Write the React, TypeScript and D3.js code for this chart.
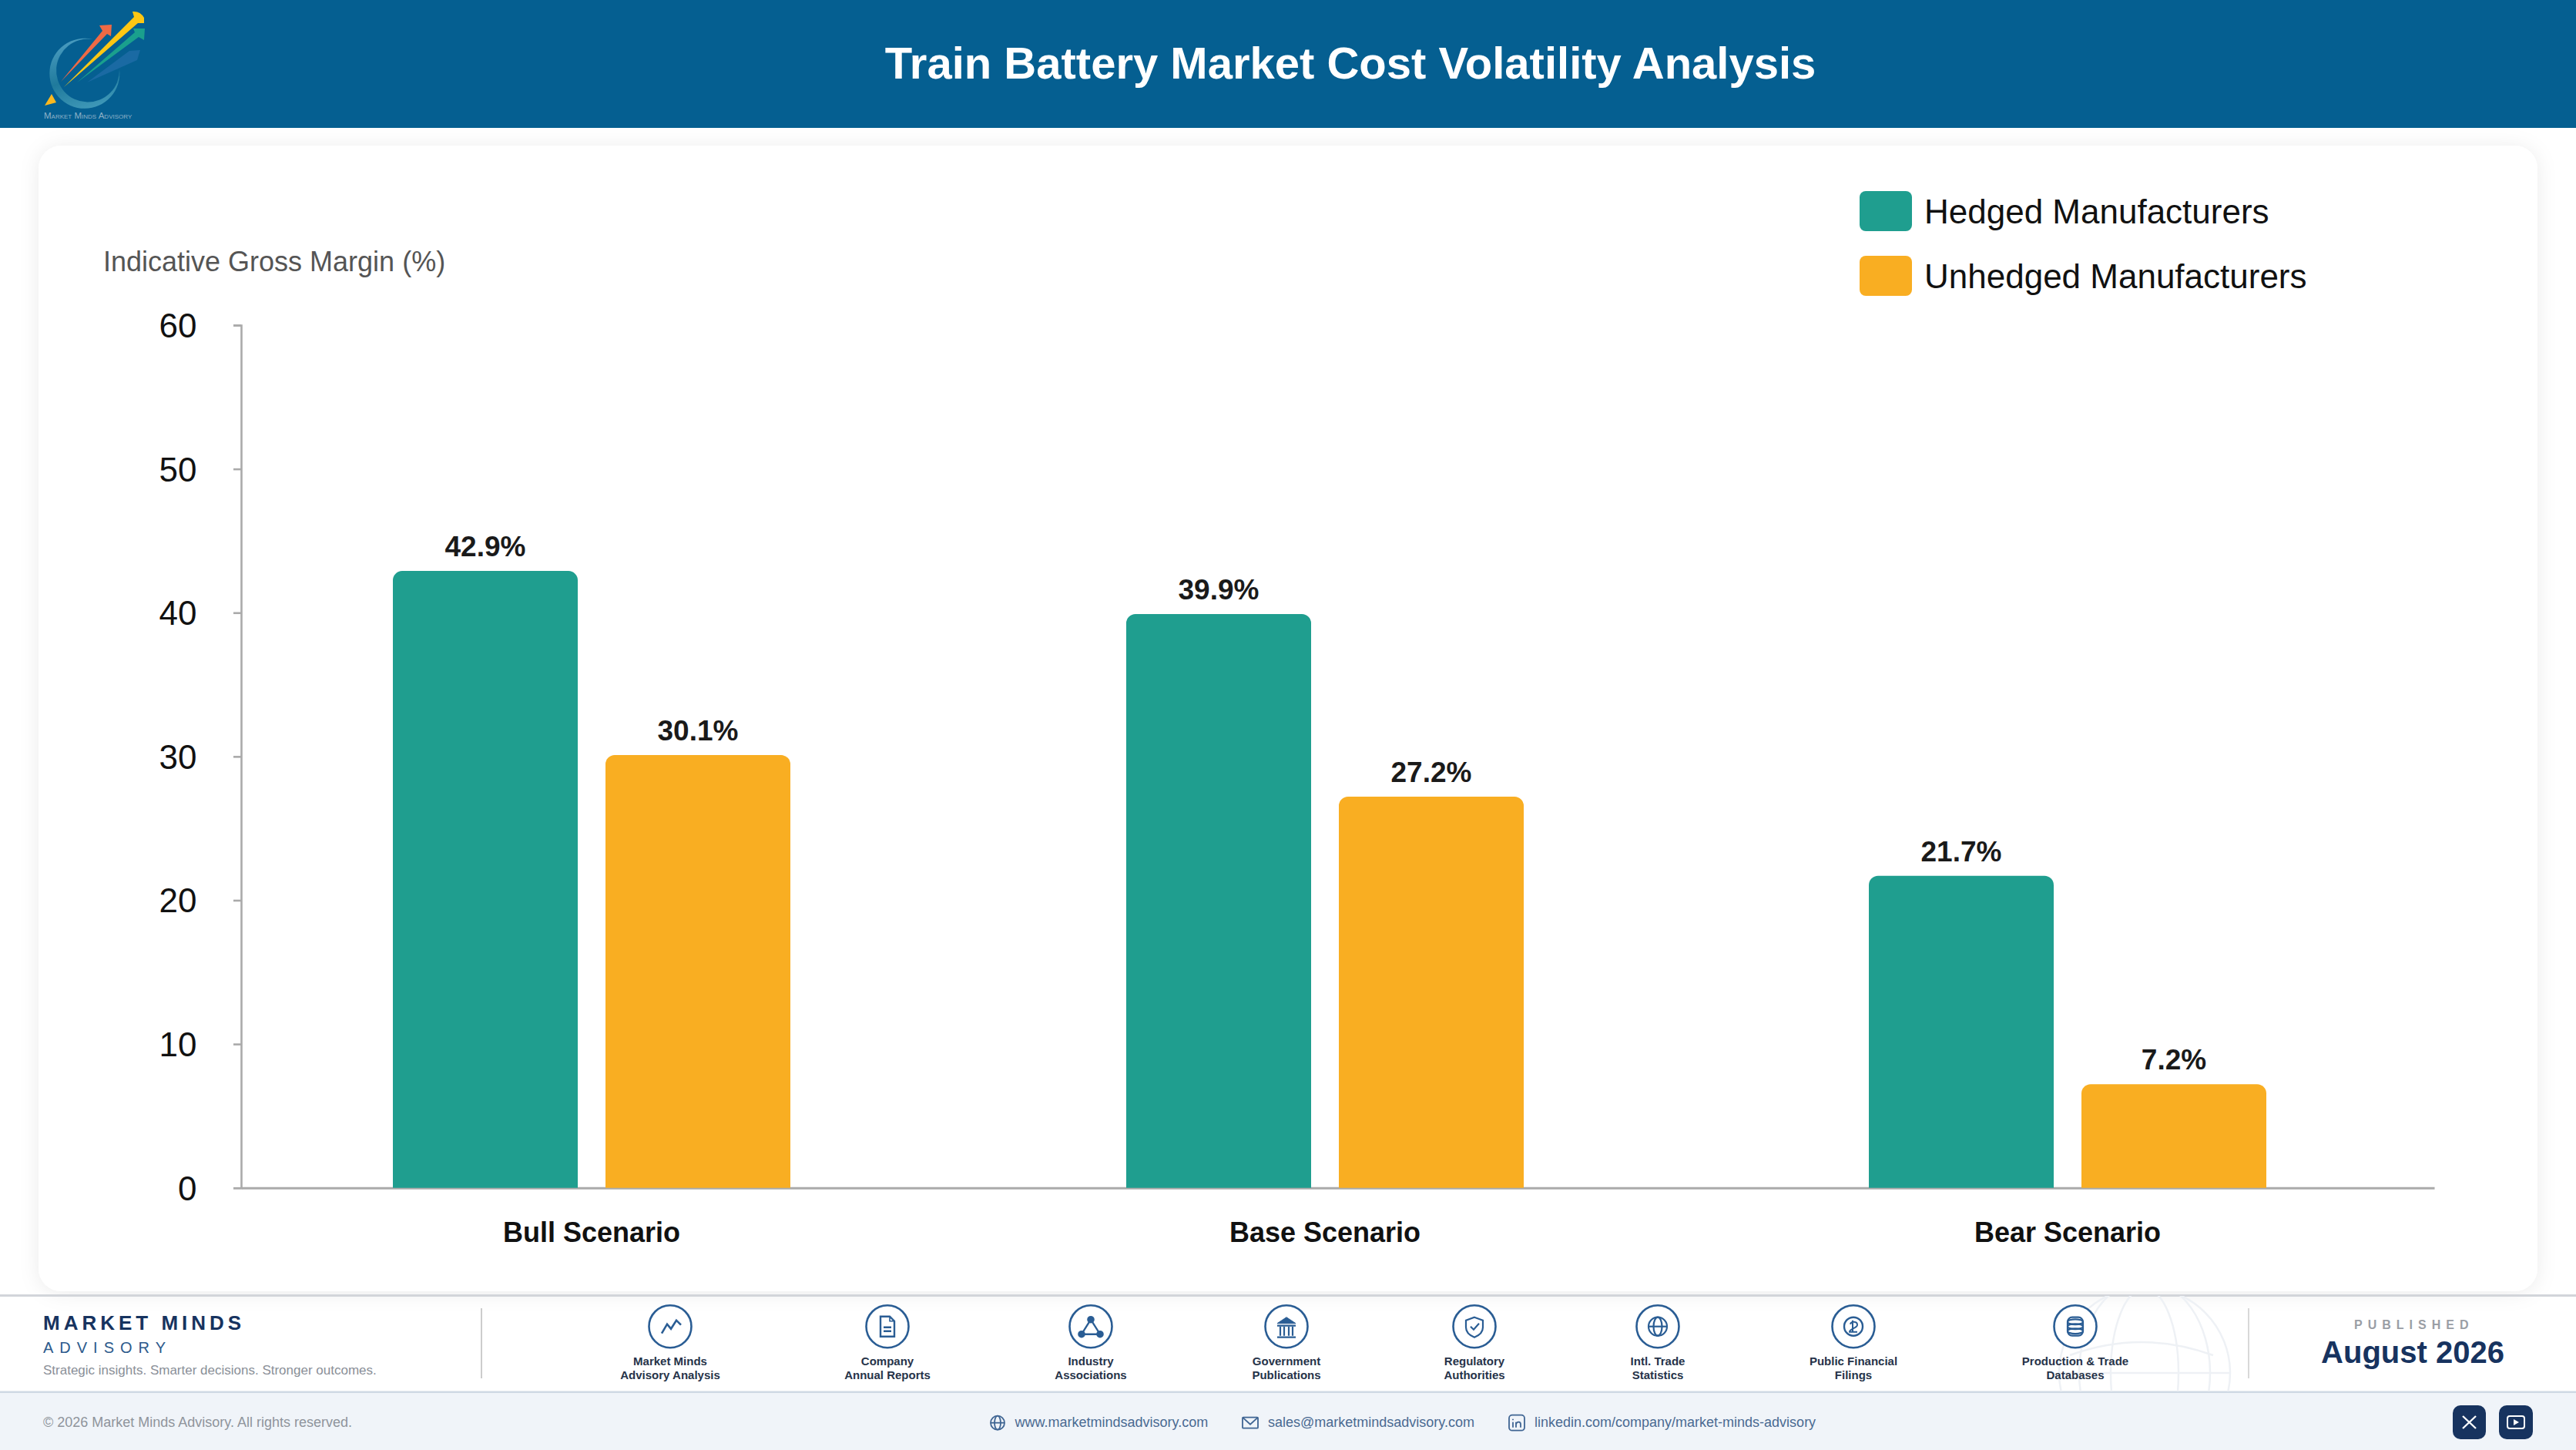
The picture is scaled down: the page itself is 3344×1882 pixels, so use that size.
import React, { useEffect, useRef } from "react";
import * as d3 from "d3";

const FONT = "'Liberation Sans', Arial, sans-serif";

const categories = ["Bull Scenario", "Base Scenario", "Bear Scenario"];
const seriesNames = ["Hedged Manufacturers", "Unhedged Manufacturers"];
const hedged = [42.9, 39.9, 21.7];
const unhedged = [30.1, 27.2, 7.2];
const seriesColors = ["#1f9e8f", "#f9ae22"];
const yTicks = [0, 10, 20, 30, 40, 50, 60];
const yAxisTitle = "Indicative Gross Margin (%)";
const chartTitle = "Train Battery Market Cost Volatility Analysis";

const sourceLabels: string[][] = [
  ["Market Minds", "Advisory Analysis"],
  ["Company", "Annual Reports"],
  ["Industry", "Associations"],
  ["Government", "Publications"],
  ["Regulatory", "Authorities"],
  ["Intl. Trade", "Statistics"],
  ["Public Financial", "Filings"],
  ["Production & Trade", "Databases"],
];
const links = ["www.marketmindsadvisory.com", "sales@marketmindsadvisory.com", "linkedin.com/company/market-minds-advisory"];

const NAVY = "#17335f";
const ICON = "#2a5d94";

function topRounded(x0: number, x1: number, yTop: number, yBase: number, r: number) {
  const p = d3.path();
  p.moveTo(x0, yBase);
  p.lineTo(x0, yTop + r);
  p.arcTo(x0, yTop, x0 + r, yTop, r);
  p.lineTo(x1 - r, yTop);
  p.arcTo(x1, yTop, x1, yTop + r, r);
  p.lineTo(x1, yBase);
  p.closePath();
  return p.toString();
}

const sourceIcons: React.ReactNode[] = [
  <polyline points="-11,9 -4,-3 1,3 8,-8 14,-2" fill="none" stroke={ICON} strokeWidth={2.6} />,
  <g fill="none" stroke={ICON} strokeWidth={2.4}>
    <path d="M-9,-13 H3 L9,-7 V13 H-9 Z" />
    <path d="M3,-13 V-7 H9" strokeWidth={1.6} />
    <path d="M-5,1 H5 M-5,6 H5" />
  </g>,
  <g stroke={ICON} strokeWidth={2.4} fill="none">
    <path d="M0,-9 L-12,10 H12 Z" />
    <circle cx={0} cy={-9} r={3.6} fill={ICON} />
    <circle cx={-12} cy={10} r={3.6} fill={ICON} />
    <circle cx={12} cy={10} r={3.6} fill={ICON} />
  </g>,
  <g stroke={ICON} fill={ICON}>
    <path d="M0,-12 L12,-4 H-12 Z" strokeWidth={1} />
    <path d="M-12,14 H12 M-12,-1 H12" strokeWidth={2.2} />
    <path d="M-8,0 V12 M-3,0 V12 M3,0 V12 M8,0 V12" strokeWidth={2.2} />
  </g>,
  <g fill="none" stroke={ICON} strokeWidth={2.2}>
    <path d="M0,-12 L11,-8 V1 C11,8 5,12 0,14 C-5,12 -11,8 -11,1 V-8 Z" />
    <path d="M-5,0 L-1,4 L6,-4" />
  </g>,
  <g fill="none" stroke={ICON} strokeWidth={2.2}>
    <circle r={12} />
    <ellipse rx={5.5} ry={12} />
    <path d="M-12,0 H12" />
  </g>,
  <g fill="none" stroke={ICON} strokeWidth={2.4}>
    <circle r={12} />
    <path d="M-4,-3 C-3,-7 5,-7 5,-2 C5,2 -5,3 -5,7 H5 M-1,-8 V7" strokeWidth={2} />
  </g>,
  <g fill="none" stroke={ICON} strokeWidth={2.2}>
    <rect x={-10} y={-12} width={20} height={24} rx={6} />
    <ellipse cx={0} cy={-6} rx={10} ry={3.4} />
    <ellipse cx={0} cy={0} rx={10} ry={3.4} />
    <ellipse cx={0} cy={6} rx={10} ry={3.4} />
  </g>,
];

function Logo() {
  return (
    <g>
      <defs>
        <linearGradient id="ring" x1="0.3" y1="0" x2="0.6" y2="1">
          <stop offset="0" stopColor="#4a9cc0" />
          <stop offset="0.55" stopColor="#1f7a9c" />
          <stop offset="1" stopColor="#3f98b8" />
        </linearGradient>
      </defs>
      <path d="M120,51 A45.5,45.5 0 1 0 155,90 A41,41 0 1 1 120,51 Z" fill="url(#ring)" />
      <path d="M113,107 L168,66 L182,65 L178,78 Z" fill="#1a6aa3" />
      <path d="M100,107 L175,42 L173,37 L188,37 L187,52 L180,48 Z" fill="#1aa08d" />
      <path d="M79,106 L133,40 L129,33 L145,32 L144,47 L139,44 Z" fill="#ef6a45" />
      <path d="M83,113 L174,22 L172,15 Q182,14 187,23 L187,30 L179,30 Z" fill="#fdc713" />
      <path d="M58,137 L67,122 L73,133 Z" fill="#fbb81f" />
      <text x={57} y={154} fontSize={11.5} fill="#8fb2c8" fontFamily={FONT} style={{ fontVariant: "small-caps" }}>Market Minds Advisory</text>
    </g>
  );
}

export default function App() {
  const yAxisRef = useRef<SVGGElement>(null);
  const xAxisRef = useRef<SVGGElement>(null);

  const yScale = d3.scaleLinear().domain([0, 60]).range([1541.7, 422]);
  const groupCenter = d3.scaleOrdinal<string, number>().domain(categories).range([768, 1720, 2684]);
  const inner = d3.scaleBand().domain(seriesNames).range([-258, 258]).paddingInner(36 / 276);
  const xFrame = d3.scaleLinear().domain([0, 1]).range([313, 3160]);
  const seriesValues = [hedged, unhedged];
  const sourceX = d3.scaleOrdinal<number, number>().domain(d3.range(8)).range([870, 1152, 1416, 1670, 1914, 2152, 2406, 2694]);

  useEffect(() => {
    const axis = d3.axisLeft(yScale).tickValues(yTicks).tickSize(10).tickPadding(47.5).tickFormat(d3.format("d") as any);
    const g = d3.select(yAxisRef.current!).attr("transform", `translate(${xFrame(0)},0)`).call(axis as any);
    g.select(".domain").attr("stroke", "#aaaaaa").attr("stroke-width", 2.6);
    g.selectAll(".tick line").attr("stroke", "#aaaaaa").attr("stroke-width", 2.6);
    g.selectAll(".tick text").attr("font-size", 44).attr("font-family", FONT).attr("fill", "#111111").attr("dy", "0.35em");
    g.attr("font-family", FONT);

    const bottom = d3.axisBottom(xFrame).tickValues([]).tickSize(0);
    const b = d3.select(xAxisRef.current!).attr("transform", `translate(0,${yScale(0)})`).call(bottom as any);
    b.select(".domain").attr("stroke", "#aaaaaa").attr("stroke-width", 3);
  }, []);

  return (
    <svg width={3344} height={1882} viewBox="0 0 3344 1882" style={{ position: "absolute", left: 0, top: 0, display: "block" }} fontFamily={FONT}>
      <defs>
        <filter id="cardShadow" x="-5%" y="-5%" width="110%" height="110%">
          <feDropShadow dx={0} dy={2} stdDeviation={13} floodColor="#000" floodOpacity={0.08} />
        </filter>
        <clipPath id="footClip"><rect x={0} y={1682} width={3344} height={124} /></clipPath>
      </defs>
      <rect width={3344} height={1882} fill="#ffffff" />

      {/* header */}
      <rect x={0} y={0} width={3344} height={166} fill="#055f91" />
      <Logo />
      <text x={1753} y={101.5} textAnchor="middle" fontSize={58} fontWeight={700} fill="#ffffff">{chartTitle}</text>

      {/* card */}
      <rect x={50} y={189} width={3244} height={1487} rx={30} fill="#ffffff" filter="url(#cardShadow)" />

      {/* legend */}
      {seriesNames.map((s, i) => (
        <g key={s}>
          <rect x={2414} y={248 + i * 84} width={68} height={52} rx={8} fill={seriesColors[i]} />
          <text x={2498} y={289.8 + i * 84} fontSize={44} fill="#111111">{s}</text>
        </g>
      ))}

      {/* axes */}
      <text x={134} y={351.7} fontSize={36} fill="#555555">{yAxisTitle}</text>
      <g ref={xAxisRef} />
      <g ref={yAxisRef} />

      {/* bars */}
      {categories.map((c, ci) => (
        <g key={c}>
          {seriesNames.map((s, si) => {
            const v = seriesValues[si][ci];
            const x0 = groupCenter(c) + (inner(s) as number);
            const x1 = x0 + inner.bandwidth();
            return (
              <g key={s}>
                <path d={topRounded(x0, x1, yScale(v), yScale(0), 12)} fill={seriesColors[si]} />
                <text x={(x0 + x1) / 2} y={yScale(v) - 19} textAnchor="middle" fontSize={37} fontWeight={700} fill="#1a1a1a">{`${v.toFixed(1)}%`}</text>
              </g>
            );
          })}
          <text x={groupCenter(c)} y={1611.7} textAnchor="middle" fontSize={36} fontWeight={700} fill="#111111">{c}</text>
        </g>
      ))}

      {/* footer */}
      <rect x={0} y={1680} width={3344} height={3} fill="#d2d5da" />
      <rect x={0} y={1806} width={3344} height={76} fill="#f0f4f9" />
      <rect x={0} y={1805.5} width={3344} height={2.5} fill="#cfd9e4" />
      <g clipPath="url(#footClip)" fill="none" stroke="#eef1f5" strokeWidth={2.5}>
        <circle cx={2784} cy={1782} r={111} />
        <ellipse cx={2784} cy={1782} rx={85} ry={120} />
        <ellipse cx={2784} cy={1782} rx={44} ry={110} />
        <path d="M2673,1782 H2895" />
        <path d="M2687,1759 Q2780,1725 2873,1759" />
      </g>

      <text x={56} y={1725.7} fontSize={26} fontWeight={700} letterSpacing={5} fill={NAVY}>MARKET MINDS</text>
      <text x={56} y={1756} fontSize={20} letterSpacing={8} fill="#2c5a8c">ADVISORY</text>
      <text x={56} y={1784} fontSize={17} fill="#8a8f98">Strategic insights. Smarter decisions. Stronger outcomes.</text>
      <rect x={624} y={1698} width={2} height={91} fill="#cccccc" />
      <rect x={2918} y={1698} width={2} height={91} fill="#d8d8d8" />

      {sourceLabels.map((lines, i) => (
        <g key={i} transform={`translate(${sourceX(i)},0)`}>
          <g transform="translate(0,1721.7)">
            <circle r={27.5} fill="#ffffff" stroke={ICON} strokeWidth={2.6} />
            {sourceIcons[i]}
          </g>
          {lines.map((t, j) => (
            <text key={j} x={0} y={1771.7 + j * 18.3} textAnchor="middle" fontSize={15} fontWeight={700} fill="#263349">{t}</text>
          ))}
        </g>
      ))}

      <text x={3056} y={1725} fontSize={16} fontWeight={700} letterSpacing={7} fill="#9a9ea5">PUBLISHED</text>
      <text x={3132} y={1769} textAnchor="middle" fontSize={40} fontWeight={700} fill={NAVY}>August 2026</text>

      <text x={56} y={1851.7} fontSize={18} fill="#8f949c">© 2026 Market Minds Advisory. All rights reserved.</text>

      <g fill="none" stroke="#3f6593" strokeWidth={1.8}>
        <g transform="translate(1295,1846.7)">
          <circle r={9} />
          <ellipse rx={4} ry={9} />
          <path d="M-9,0 H9" />
        </g>
        <g transform="translate(1623,1846.7)">
          <rect x={-10} y={-7} width={20} height={14} rx={1} />
          <path d="M-10,-7 L0,2 L10,-7" />
        </g>
        <g transform="translate(1969,1846.7)">
          <rect x={-10} y={-10} width={20} height={20} rx={4} />
          <path d="M-5,-1 V6 M-5,-5 V-3.5 M-1,6 V-1 M-1,2 C0,-2 5,-2 5,2 V6" />
        </g>
      </g>
      <text x={1317.5} y={1852} fontSize={18} fill="#4a6a92">{links[0]}</text>
      <text x={1646} y={1852} fontSize={18} fill="#4a6a92">{links[1]}</text>
      <text x={1992} y={1852} fontSize={18} fill="#4a6a92">{links[2]}</text>

      <rect x={3184} y={1824} width={43} height={44} rx={10} fill={NAVY} />
      <path d="M3197,1838 L3214,1854 M3214,1838 L3197,1854" stroke="#ffffff" strokeWidth={2.4} fill="none" />
      <rect x={3244} y={1824} width={44} height={44} rx={10} fill={NAVY} />
      <rect x={3255} y={1838} width={22} height={16} rx={3} fill="none" stroke="#ffffff" strokeWidth={2} />
      <path d="M3263,1842 L3270,1846 L3263,1850 Z" fill="#ffffff" />
    </svg>
  );
}
